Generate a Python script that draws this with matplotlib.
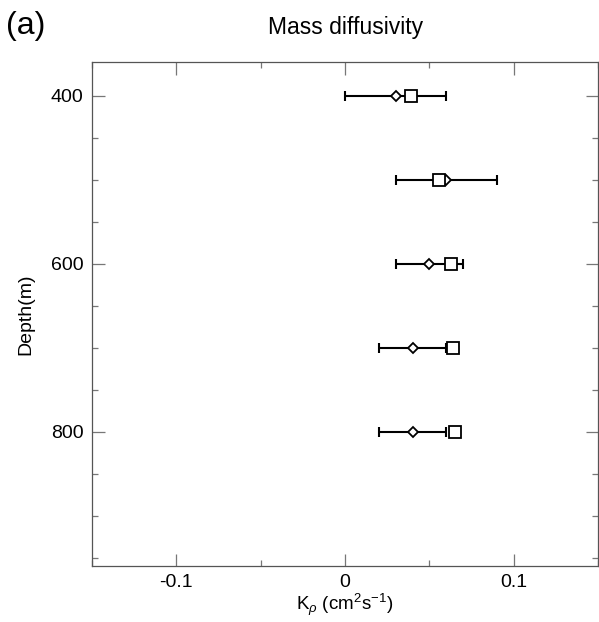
import numpy as np
import matplotlib
matplotlib.use('Agg')
import matplotlib.pyplot as plt
from matplotlib.ticker import MultipleLocator

plt.rcParams['font.family'] = ['Liberation Sans', 'DejaVu Sans']
plt.rcParams['mathtext.fontset'] = 'custom'
plt.rcParams['mathtext.rm'] = 'Liberation Sans'
plt.rcParams['mathtext.it'] = 'Liberation Sans:italic'

# Values
depth = [400, 500, 600, 700, 800]
k_diamond = [0.030, 0.060, 0.050, 0.040, 0.040]
k_diamond_err = [0.030, 0.030, 0.020, 0.020, 0.020]
k_square = [0.039, 0.0555, 0.063, 0.064, 0.065]

fig = plt.figure(figsize=(5.99, 6.22), dpi=100)
ax = fig.add_axes([0.1536, 0.090, 0.845, 0.810])

ax.errorbar(k_diamond, depth, xerr=k_diamond_err, fmt='none', ecolor='black',
            elinewidth=1.5, capsize=3.5, capthick=1.5, zorder=2)
ax.plot(k_diamond, depth, linestyle='none', marker='D', markersize=5.5,
        markerfacecolor='white', markeredgecolor='black', markeredgewidth=1.3, zorder=3)
ax.plot(k_square, depth, linestyle='none', marker='s', markersize=8.5,
        markerfacecolor='white', markeredgecolor='black', markeredgewidth=1.3, zorder=3)

ax.set_xlim(-0.15, 0.15)
ax.set_ylim(960, 360)
ax.set_xticks([-0.1, 0, 0.1])
ax.set_xticklabels(['-0.1', '0', '0.1'])
ax.xaxis.set_minor_locator(MultipleLocator(0.05))
ax.set_yticks([400, 600, 800])
ax.yaxis.set_minor_locator(MultipleLocator(50))
ax.tick_params(which='both', direction='in', top=True, right=True, labelsize=14,
               color='#777777', pad=6)
ax.tick_params(which='major', length=9, width=0.9)
ax.tick_params(which='minor', length=4, width=0.9)
for s in ax.spines.values():
    s.set_color('#555555')
    s.set_linewidth(0.9)

ax.set_xlabel(r'K$_\rho$ (cm$^2$s$^{-1}$)', fontsize=13.5, labelpad=0)
ax.set_ylabel('Depth(m)', fontsize=14, labelpad=12)
ax.set_title('Mass diffusivity', fontsize=16.5, pad=20)
fig.text(0.01, 0.958, '(a)', fontsize=23, va='center', ha='left')

fig.savefig('out.png', dpi=100)
